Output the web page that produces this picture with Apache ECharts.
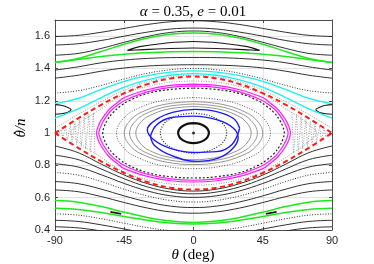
<!DOCTYPE html>
<html><head><meta charset="utf-8">
<script src="https://cdn.jsdelivr.net/npm/echarts@6.0.0/dist/echarts.min.js"></script>
<style>html,body{margin:0;padding:0;background:#fff}#c{width:374px;height:264px}</style>
</head><body><div id="c"></div>
<script>
// ---------- data ----------
const xTicks = [-90, -45, 0, 45, 90];
const yTicks = [0.4, 0.6, 0.8, 1.0, 1.2, 1.4, 1.6];
const TH = [-90,-75,-60,-45,-30,-15,0,15,30,45,60,75,90];

// circulating curves (y at TH)
const u1 = [1.598,1.605,1.624,1.648,1.672,1.689,1.695,1.689,1.672,1.648,1.624,1.605,1.598];
const u2 = [1.545,1.553,1.573,1.600,1.625,1.644,1.650,1.644,1.625,1.600,1.573,1.553,1.545];
const u3 = [1.482,1.493,1.524,1.562,1.598,1.623,1.632,1.623,1.598,1.562,1.524,1.493,1.482];
const greenTopUpper = [1.437,1.462,1.505,1.550,1.588,1.612,1.620,1.612,1.588,1.550,1.505,1.462,1.437];
const greenTopLower = [1.437,1.455,1.474,1.488,1.497,1.503,1.505,1.503,1.497,1.488,1.474,1.455,1.437];
const u4 = [1.390,1.410,1.435,1.452,1.462,1.467,1.468,1.467,1.462,1.452,1.435,1.410,1.390];
const u5 = [1.340,1.358,1.383,1.403,1.415,1.421,1.423,1.421,1.415,1.403,1.383,1.358,1.340];
const dotTop = [1.248,1.262,1.295,1.335,1.370,1.392,1.400,1.392,1.370,1.335,1.295,1.262,1.248];
const cyanUpper = [1.182,1.215,1.270,1.320,1.355,1.377,1.385,1.377,1.355,1.320,1.270,1.215,1.182];
const cyanLower = [1.093,1.150,1.220,1.285,1.330,1.358,1.368,1.358,1.330,1.285,1.220,1.150,1.093];
const chaosTop = [1.030,1.115,1.195,1.265,1.317,1.347,1.358,1.347,1.317,1.265,1.195,1.115,1.030];
const redUpper = [1.000,1.091,1.175,1.247,1.303,1.338,1.350,1.338,1.303,1.247,1.175,1.091,1.000];
const redLower = [1.000,0.909,0.825,0.753,0.697,0.662,0.650,0.662,0.697,0.753,0.825,0.909,1.000];
const l1 = [0.920,0.879,0.808,0.740,0.687,0.653,0.641,0.653,0.687,0.740,0.808,0.879,0.920];
const l2 = [0.863,0.836,0.778,0.717,0.667,0.635,0.624,0.635,0.667,0.717,0.778,0.836,0.863];
const l3 = [0.810,0.790,0.742,0.688,0.642,0.612,0.602,0.612,0.642,0.688,0.742,0.790,0.810];
const dotLow = [0.756,0.740,0.700,0.652,0.611,0.583,0.573,0.583,0.611,0.652,0.700,0.740,0.756];
const l5 = [0.700,0.687,0.653,0.611,0.574,0.548,0.539,0.548,0.574,0.611,0.653,0.687,0.700];
const l6 = [0.648,0.637,0.607,0.570,0.536,0.512,0.504,0.512,0.536,0.570,0.607,0.637,0.648];
const greenBotUpper = [0.582,0.572,0.545,0.510,0.478,0.455,0.447,0.455,0.478,0.510,0.545,0.572,0.582];
const greenBotLower = [0.534,0.527,0.508,0.483,0.460,0.443,0.437,0.443,0.460,0.483,0.508,0.527,0.534];
const dotBottom = [0.500,0.492,0.470,0.442,0.415,0.396,0.390,0.396,0.415,0.442,0.470,0.492,0.500];
const l8 = [0.460,0.453,0.432,0.406,0.381,0.363,0.353,0.363,0.381,0.406,0.432,0.453,0.460];
const l9 = [0.420,0.413,0.394,0.369,0.346,0.329,0.317,0.329,0.346,0.369,0.394,0.413,0.420];

// top island (closed)
const islandTopTh = [-43,-35,-20,0,20,35,43,35,20,0,-20,-35,-43];
const islandTopY  = [1.512,1.535,1.555,1.567,1.555,1.535,1.512,1.515,1.522,1.527,1.522,1.515,1.512];
// edge islands near theta = +-90
const islandLeftTh = [-90,-86,-82,-79.5,-82,-86,-90];
const islandLeftY  = [1.176,1.172,1.160,1.146,1.128,1.120,1.117];
const islandRightTh = [90,86,82,79.5,82,86,90];
const islandRightY  = [1.176,1.172,1.160,1.146,1.128,1.120,1.117];
// small marks in the bottom band
const markLeftTh = [-54,-47];  const markLeftY = [0.512,0.500];
const markRightTh = [47,54];   const markRightY = [0.500,0.512];

// libration loops: theta samples, upper branch, lower branch
const magTh  = [-63,-62,-60,-55,-50,-45,-30,-15,0,15,30,45,50,55,60,62,63];
const mag1Up = [1.000,1.040,1.080,1.145,1.185,1.220,1.268,1.295,1.303,1.295,1.268,1.220,1.185,1.145,1.080,1.040,1.000];
const mag1Lo = [1.000,0.960,0.920,0.855,0.815,0.780,0.732,0.705,0.697,0.705,0.732,0.780,0.815,0.855,0.920,0.960,1.000];
const mag2Th = [-61.5,-60.5,-58.5,-54,-49,-44,-30,-15,0,15,30,44,49,54,58.5,60.5,61.5];
const mag2Up = [1.000,1.035,1.075,1.135,1.175,1.205,1.255,1.283,1.292,1.283,1.255,1.205,1.175,1.135,1.075,1.035,1.000];
const mag2Lo = [1.000,0.965,0.925,0.865,0.825,0.795,0.745,0.717,0.708,0.717,0.745,0.795,0.825,0.865,0.925,0.965,1.000];
const chainTh = [-59,-58,-56,-52,-47,-42,-30,-15,0,15,30,42,47,52,56,58,59];
const chainUp = [1.000,1.040,1.080,1.130,1.170,1.200,1.245,1.270,1.278,1.270,1.245,1.200,1.170,1.130,1.080,1.040,1.000];
const chainLo = [1.000,0.960,0.920,0.870,0.830,0.800,0.755,0.730,0.722,0.730,0.755,0.800,0.830,0.870,0.920,0.960,1.000];
const loopA_Th = [-50,-45,-35,-20,0,20,35,45,50];
const loopA_Up = [1.000,1.096,1.157,1.202,1.220,1.202,1.157,1.096,1.000];
const loopA_Lo = [1.000,0.904,0.843,0.798,0.780,0.798,0.843,0.904,1.000];
const loopB_Th = [-45,-40.5,-31.5,-18,0,18,31.5,40.5,45];
const loopB_Up = [1.000,1.085,1.139,1.179,1.195,1.179,1.139,1.085,1.000];
const loopB_Lo = [1.000,0.915,0.861,0.821,0.805,0.821,0.861,0.915,1.000];
const loopC_Th = [-41.5,-37.4,-29,-16.6,0,16.6,29,37.4,41.5];
const loopC_Up = [1.000,1.078,1.129,1.165,1.180,1.165,1.129,1.078,1.000];
const loopC_Lo = [1.000,0.922,0.871,0.835,0.820,0.835,0.871,0.922,1.000];
const loopD_Th = [-37.5,-33.8,-26.3,-15,0,15,26.3,33.8,37.5];
const loopD_Up = [1.000,1.072,1.118,1.151,1.165,1.151,1.118,1.072,1.000];
const loopD_Lo = [1.000,0.928,0.882,0.849,0.835,0.849,0.882,0.928,1.000];
const ringTh = [-21.5,-19.4,-15,-8.6,0,8.6,15,19.4,21.5];
const ringUp = [1.000,1.054,1.088,1.113,1.123,1.113,1.088,1.054,1.000];
const ringLo = [1.000,0.946,0.912,0.887,0.877,0.887,0.912,0.946,1.000];
const coreTh = [-10,-9,-7,-4,0,4,7,9,10];
const coreUp = [1.000,1.027,1.044,1.057,1.062,1.057,1.044,1.027,1.000];
const coreLo = [1.000,0.973,0.956,0.943,0.938,0.943,0.956,0.973,1.000];
// two blue orbits
const blueA_Th = [30,26,15,1,-13,-24,-30,-26,-15,0,15,25,30];
const blueA_Y  = [1.030,1.090,1.133,1.147,1.130,1.085,1.020,0.960,0.905,0.880,0.885,0.930,1.030];
const blueB_Th = [-28,-25,-14,2,16,25,29,26,16,0,-15,-24,-28];
const blueB_Y  = [0.980,0.920,0.860,0.825,0.845,0.900,0.970,1.030,1.080,1.105,1.095,1.050,0.980];
// chaotic layer near the hyperbolic points
const chaosLeftTh = [-89,-88,-86,-85,-83,-82,-80,-79,-77,-76,-74,-73,-71,-70,-68,-67,-65,-64];
const chaosLeftY  = [1.010,0.985,1.025,0.970,1.040,0.955,1.055,0.945,1.070,0.930,1.085,0.915,1.100,0.900,1.115,0.885,1.125,0.870];
const chaosRightTh = [89,88,86,85,83,82,80,79,77,76,74,73,71,70,68,67,65,64];
const chaosRightY  = [0.990,1.015,0.975,1.030,0.960,1.045,0.945,1.055,0.930,1.070,0.915,1.085,0.900,1.100,0.885,1.115,0.875,1.130];
const chaosMidTh = [-80,-75,-70,-65,-60,-50,-40,-30,-15,0,15,30,40,50,60,65,70,75,80];
const chaosMidUp = [1.000,1.050,1.090,1.120,1.150,1.215,1.260,1.288,1.315,1.322,1.315,1.288,1.260,1.215,1.150,1.120,1.090,1.050,1.000];
const chaosMidLo = [1.000,0.950,0.910,0.880,0.850,0.785,0.740,0.712,0.685,0.678,0.685,0.712,0.740,0.785,0.850,0.880,0.910,0.950,1.000];

// ---------- build series ----------
function pairs(xs, ys){ return xs.map((x,i)=>[x, ys[i]]); }
function loopPath(th, up, lo){
  const n = th.length, m = (n-1)/2, p = [];
  for (let i=m;i<n;i++) p.push([th[i], up[i]]);
  for (let i=n-2;i>=1;i--) p.push([th[i], lo[i]]);
  for (let i=0;i<=m;i++) p.push([th[i], up[i]]);
  return p;
}
function line(data, color, width, type, z, smooth){
  return {type:'line', data, showSymbol:false, symbol:'none', silent:true, animation:false,
    smooth: smooth===undefined?0.4:smooth, clip:true, z: z||2,
    lineStyle:{color, width, type: type||'solid'}};
}
const BLK = '#1a1a1a', GRY = '#6a6a6a';
const DOT = [1,1.6];
const series = [];
// chaos (drawn first, underneath)
series.push(line(pairs(chaosLeftTh, chaosLeftY), '#8a8a8a', 0.8, [1,1.5], 1, false));
series.push(line(pairs(chaosRightTh, chaosRightY), '#8a8a8a', 0.8, [1,1.5], 1, false));
series.push(line(loopPath(chaosMidTh, chaosMidUp, chaosMidLo), '#808080', 0.8, [1,1.5], 1));
series.push(line(pairs(TH, chaosTop), '#808080', 0.8, [1,1.5], 1));
// black circulating curves
[u1,u2,u3,u4,u5,l1,l2,l3,l5,l6,l8,l9].forEach(a=>series.push(line(pairs(TH,a), BLK, 0.9)));
[dotTop, dotLow, dotBottom].forEach(a=>series.push(line(pairs(TH,a), '#333', 1, DOT)));
series.push(line(pairs(islandTopTh, islandTopY), BLK, 1.1));
series.push(line(pairs(islandLeftTh, islandLeftY), BLK, 1.1));
series.push(line(pairs(islandRightTh, islandRightY), BLK, 1.1));
series.push(line(pairs(markLeftTh, markLeftY), BLK, 1.6, 'solid', 3, false));
series.push(line(pairs(markRightTh, markRightY), BLK, 1.6, 'solid', 3, false));
// libration loops
series.push(line(loopPath(loopA_Th, loopA_Up, loopA_Lo), '#555', 1, DOT));
series.push(line(loopPath(loopB_Th, loopB_Up, loopB_Lo), GRY, 0.7));
series.push(line(loopPath(loopC_Th, loopC_Up, loopC_Lo), GRY, 0.7));
series.push(line(loopPath(loopD_Th, loopD_Up, loopD_Lo), GRY, 0.7));
series.push(line(loopPath(ringTh, ringUp, ringLo), '#222', 1.2, DOT));
series.push(line(loopPath(coreTh, coreUp, coreLo), '#111', 2.2, 'solid', 4));
series.push(line(loopPath(chainTh, chainUp, chainLo), '#222', 1.2, [2,2]));
// coloured curves
[greenTopUpper, greenTopLower, greenBotUpper, greenBotLower].forEach(a=>series.push(line(pairs(TH,a), '#1ee81e', 1.5, 'solid', 4)));
[cyanUpper, cyanLower].forEach(a=>series.push(line(pairs(TH,a), '#19f0f0', 1.3, 'solid', 4)));
series.push(line(loopPath(magTh, mag1Up, mag1Lo), '#ff1aff', 1.2, 'solid', 4));
series.push(line(loopPath(mag2Th, mag2Up, mag2Lo), '#ff1aff', 1.2, 'solid', 4));
series.push(line(pairs(blueA_Th, blueA_Y), '#1a1aff', 1.4, 'solid', 4));
series.push(line(pairs(blueB_Th, blueB_Y), '#1a1aff', 1.4, 'solid', 4));
[redUpper, redLower].forEach(a=>series.push(line(pairs(TH,a), '#ff1a1a', 2, [5,3.5], 5)));
series.push({type:'scatter', data:[[0,1]], symbolSize:3, itemStyle:{color:'#000'}, silent:true, animation:false, z:6});

const AX = '#4d4d4d';
const fmt = v => { const r = Math.round(v*10)/10; return Math.abs(r-1)<1e-9 ? '1' : r.toFixed(1); };
const tickLab = {fontSize:11, color:'#262626', fontFamily:'"Liberation Sans", Arial, sans-serif'};
const axLine = {show:true, onZero:false, lineStyle:{color:AX, width:1}};
const axTick = {show:true, inside:true, length:3, lineStyle:{color:AX}};
const chart = echarts.init(document.getElementById('c'), null, {renderer:'canvas'});
chart.setOption({
  animation:false,
  backgroundColor:'#fff',
  grid:{left:55, right:42, top:20, bottom:34, containLabel:false},
  xAxis:[
    {type:'value', min:xTicks[0], max:xTicks[xTicks.length-1], interval:45, position:'bottom',
     axisLine:axLine, axisTick:axTick,
     axisLabel:Object.assign({margin:5, formatter:v=>String(v)}, tickLab),
     splitLine:{show:true, lineStyle:{color:'#e3e3e3', width:1}}},
    {type:'value', min:xTicks[0], max:xTicks[xTicks.length-1], interval:45, position:'top',
     axisLine:axLine, axisTick:axTick, axisLabel:{show:false}, splitLine:{show:false}}
  ],
  yAxis:[
    {type:'value', min:yTicks[0], max:1.7, interval:0.2, position:'left',
     axisLine:axLine, axisTick:axTick,
     axisLabel:Object.assign({margin:5, showMaxLabel:false, formatter:fmt}, tickLab),
     splitLine:{show:true, lineStyle:{color:'#e3e3e3', width:1}}},
    {type:'value', min:yTicks[0], max:1.7, interval:0.2, position:'right',
     axisLine:axLine, axisTick:axTick, axisLabel:{show:false}, splitLine:{show:false}}
  ],
  series: series,
  graphic:[
    {type:'text', x:193, y:12, style:{text:'{i|α} = 0.35, {i|e} = 0.01', fill:'#000', align:'center', verticalAlign:'middle',
      font:'15px "Liberation Serif", serif', rich:{i:{fontStyle:'italic', fontFamily:'"Liberation Serif", serif', fontSize:15}}}},
    {type:'text', x:193, y:255, style:{text:'{i|θ} (deg)', fill:'#000', align:'center', verticalAlign:'middle',
      font:'15px "Liberation Serif", serif', rich:{i:{fontStyle:'italic', fontFamily:'"Liberation Serif", serif', fontSize:15}}}},
    {type:'text', x:21, y:128, rotation:Math.PI/2, style:{text:'θ/n', fill:'#000', align:'center', verticalAlign:'middle',
      font:'italic 15px "Liberation Serif", serif'}},
    {type:'circle', shape:{cx:14.5, cy:133, r:0.9}, style:{fill:'#000'}}
  ]
});
</script></body></html>
